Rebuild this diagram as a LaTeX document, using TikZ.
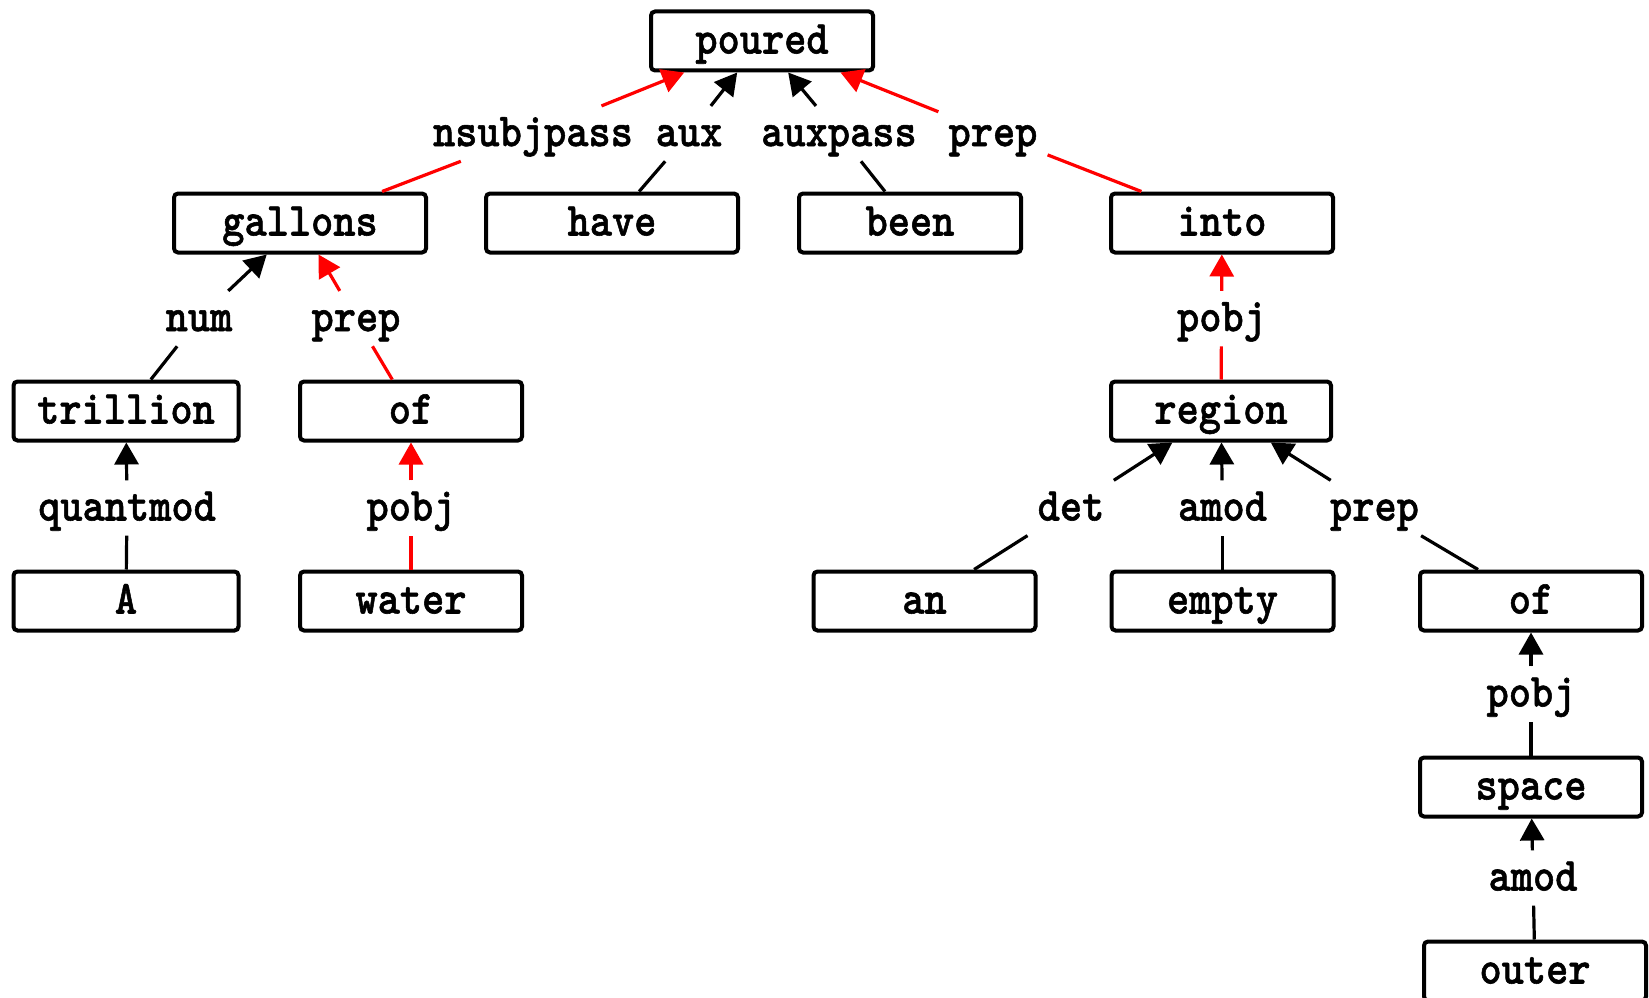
\documentclass[tikz,border=0pt]{standalone}
\usepackage{fontspec}
\usepackage{graphicx}
\usetikzlibrary{arrows.meta}
\newfontfamily\lbmono{lmmonolt10-bold.otf}[FakeBold=1.2]
\newcommand{\lbfont}{\fontsize{42.3pt}{50pt}\selectfont\lbmono}
\newcommand{\sx}[1]{\scalebox{1}[1.12]{#1}}
\tikzset{
  box/.style={draw, line width=4pt, rounded corners=4pt, fill=white,
    minimum height=59pt, minimum width=222pt, inner sep=0pt,
    text height=30pt, text depth=5pt, font=\lbfont},
  lab/.style={inner sep=10pt, text height=30pt, text depth=5pt, font=\lbfont},
  bedge/.style={line width=3.2pt, draw=black},
  redge/.style={line width=3.2pt, draw=red},
  arr/.style={-{Triangle[length=22pt,width=24pt]}},
  bar/.style={arr, fill=black},
  rar/.style={arr, fill=red},
}
\begin{document}
\begin{tikzpicture}[x=1pt,y=-1pt]
\useasboundingbox (0,0) rectangle (1649,998);
\clip (0,0) rectangle (1649,998);
% boxes
\node[box] (poured) at (762,41) {\sx{poured}};
\node[box, minimum width=252pt] (gallons) at (300,223) {\sx{gallons}};
\node[box, minimum width=252pt] (have) at (612,223) {\sx{have}};
\node[box] (been) at (910,223) {\sx{been}};
\node[box] (into) at (1222,223) {\sx{into}};
\node[box, minimum width=225pt] (trillion) at (126,411) {\sx{trillion}};
\node[box] (ofa) at (411,411) {\sx{of}};
\node[box, minimum width=220pt] (region) at (1221,411) {\sx{region}};
\node[box, minimum width=225pt] (A) at (126,601) {\sx{A}};
\node[box] (water) at (411,601) {\sx{water}};
\node[box] (an) at (924.5,601) {\sx{an}};
\node[box] (empty) at (1222.5,601) {\sx{empty}};
\node[box] (ofb) at (1531,601) {\sx{of}};
\node[box] (space) at (1531,787) {\sx{space}};
\node[box] (outer) at (1535,971) {\sx{outer}};
% labels
\node[lab] (l1) at (533,133.6) {\sx{nsubjpass}};
\node[lab] (l2) at (689,133.6) {\sx{aux}};
\node[lab] (l3) at (839,133.6) {\sx{auxpass}};
\node[lab] (l4) at (993,133.6) {\sx{prep}};
\node[lab] (l5) at (199,318.6) {\sx{num}};
\node[lab] (l6) at (356,318.6) {\sx{prep}};
\node[lab] (l7) at (1221.5,318.6) {\sx{pobj}};
\node[lab] (l8) at (127,508) {\sx{quantmod}};
\node[lab] (l9) at (411,508) {\sx{pobj}};
\node[lab] (l10) at (1071,508) {\sx{det}};
\node[lab] (l11) at (1222.5,508) {\sx{amod}};
\node[lab] (l12) at (1374.5,508) {\sx{prep}};
\node[lab] (l13) at (1531,694) {\sx{pobj}};
\node[lab] (l14) at (1533,878) {\sx{amod}};
% edges
\draw[redge] (gallons) -- (l1);
\draw[redge,rar] (l1) -- (poured);
\draw[bedge] (have) -- (l2);
\draw[bedge,bar] (l2) -- (poured);
\draw[bedge] (been) -- (l3);
\draw[bedge,bar] (l3) -- (poured);
\draw[redge] (into) -- (l4);
\draw[redge,rar] (l4) -- (poured);
\draw[bedge] (trillion) -- (l5);
\draw[bedge,bar] (l5) -- (gallons);
\draw[redge] (ofa) -- (l6);
\draw[redge,rar] (l6) -- (gallons);
\draw[redge] (region) -- (l7);
\draw[redge,rar] (l7) -- (into);
\draw[bedge] (A) -- (l8);
\draw[bedge,bar] (l8) -- (trillion);
\draw[redge] (water) -- (l9);
\draw[redge,rar] (l9) -- (ofa);
\draw[bedge] (an) -- (l10);
\draw[bedge,bar] (l10) -- (region);
\draw[bedge] (empty) -- (l11);
\draw[bedge,bar] (l11) -- (region);
\draw[bedge] (ofb) -- (l12);
\draw[bedge,bar] (l12) -- (region);
\draw[bedge] (space) -- (l13);
\draw[bedge,bar] (l13) -- (ofb);
\draw[bedge] (outer) -- (l14);
\draw[bedge,bar] (l14) -- (space);
\end{tikzpicture}
\end{document}
